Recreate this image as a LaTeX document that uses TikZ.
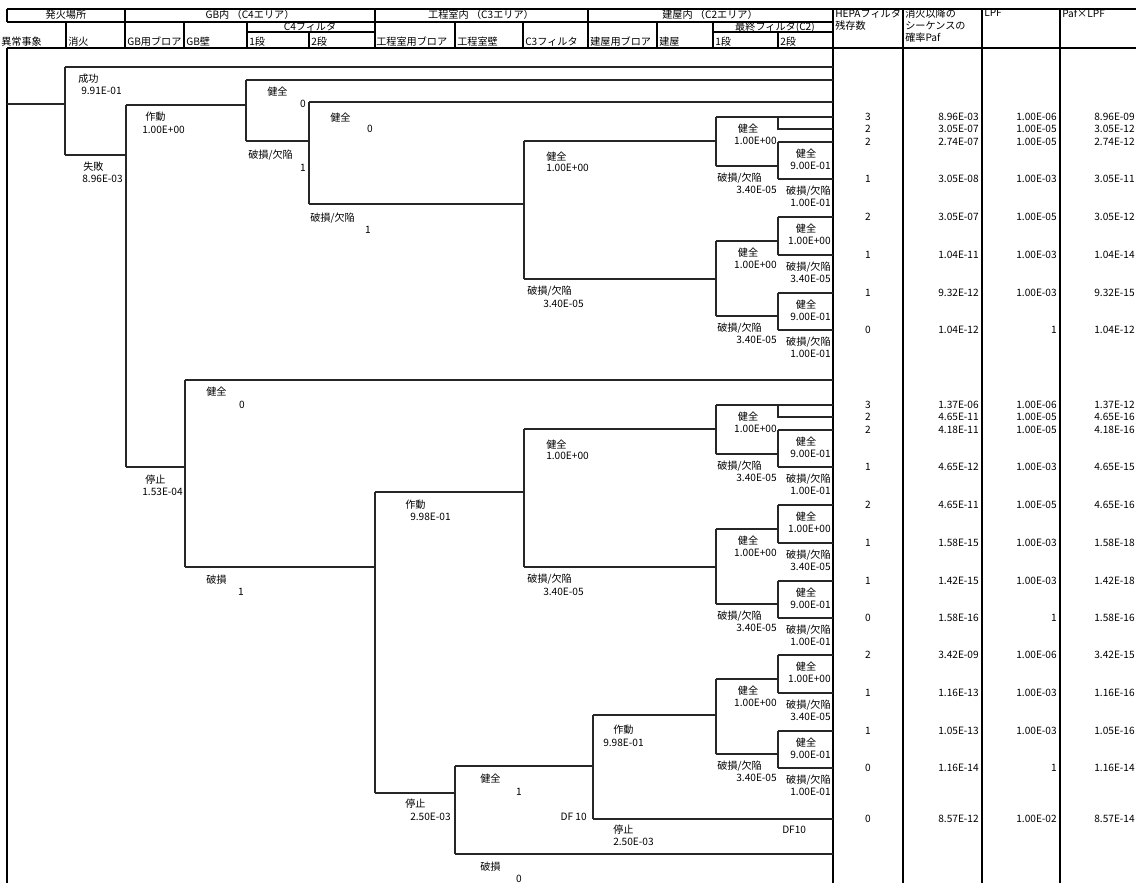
\documentclass[tikz,border=0pt]{standalone}
\usepackage{fontspec}
\setmainfont{Noto Sans CJK JP}
\usetikzlibrary{calc}

\tikzset{
  branch/.style={line width=1.1pt, black!85},
  rule/.style={line width=1.3pt},
  frame/.style={line width=2.2pt},
  lbl/.style={inner sep=0pt, font=\fontsize{7.6}{9}\selectfont},
}

% 2段 split of the final filter (C2): top y, bottom y, four labels
\newcommand{\cfork}[6]{%
  \draw[branch] (778,#1) -- (778,#2);
  \draw[branch] (778,#1) -- (833,#1);
  \draw[branch] (778,#2) -- (833,#2);
  \node[lbl] at (806,#1+12) {#3};
  \node[lbl,anchor=east] at (831,#1+24) {#4};
  \node[lbl,anchor=east] at (831,#2+12) {#5};
  \node[lbl,anchor=east] at (831,#2+24) {#6};
}
% 1段 of the final filter after a broken C3 filter
\newcommand{\lowerhalf}[1]{%
  \draw[branch] (716,#1+124) -- (716,#1+199);
  \draw[branch] (716,#1+124) -- (778,#1+124);
  \draw[branch] (716,#1+199) -- (778,#1+199);
  \node[lbl] at (748,#1+136) {健全};
  \node[lbl,anchor=east] at (777,#1+148) {1.00E+00};
  \node[lbl,anchor=west] at (717,#1+211) {破損/欠陥};
  \node[lbl,anchor=east] at (777,#1+223) {3.40E-05};
  \cfork{#1+100}{#1+138}{健全}{1.00E+00}{破損/欠陥}{3.40E-05}
  \cfork{#1+176}{#1+213}{健全}{9.00E-01}{破損/欠陥}{1.00E-01}
}

\begin{document}
\begin{tikzpicture}[x=0.75pt,y=-0.75pt]
  \useasboundingbox (0,0) rectangle (1136,883);

  % header rules
  \draw[frame] (7,9) -- (1136,9);
  \draw[rule] (7,22) -- (833,22);
  \draw[frame] (7,48) -- (1136,48);
  \draw[rule] (247,32) -- (375,32);
  \draw[rule] (713,32) -- (833,32);
  \foreach \x in {125,375,588} \draw[rule] (\x,9) -- (\x,48);
  \foreach \x in {66,184,247,455,523,657,713} \draw[rule] (\x,22) -- (\x,48);
  \foreach \x in {309,778} \draw[rule] (\x,32) -- (\x,48);
  \draw[frame] (7,9) -- (7,22);
  \draw[frame] (7,48) -- (7,883);
  \foreach \x in {833,903,982,1060} \draw[frame] (\x,9) -- (\x,883);

  % header texts
  \node[lbl] at (66,15) {発火場所};
  \node[lbl] at (250,15) {GB内\ （C4エリア）};
  \node[lbl] at (481,15) {工程室内\ （C3エリア）};
  \node[lbl] at (710,15) {建屋内\ （C2エリア）};
  \node[lbl] at (310,27) {C4フィルタ};
  \node[lbl] at (775,27) {最終フィルタ(C2)};
  \foreach \x/\t in {1/異常事象, 68/消火, 127/GB用ブロア, 186/GB壁, 249/1段, 311/2段,
                     376/工程室用ブロア, 457/工程室壁, 525/C3フィルタ, 590/建屋用ブロア,
                     659/建屋, 715/1段, 780/2段}
    \node[lbl,anchor=west] at (\x,42) {\t};
  \node[lbl,anchor=north west,align=left] at (835,9) {HEPAフィルタ\\残存数};
  \node[lbl,anchor=north west,align=left] at (905,9) {消火以降の\\シーケンスの\\確率Paf};
  \node[lbl,anchor=north west] at (984,9) {LPF};
  \node[lbl,anchor=north west] at (1062,9) {Paf×LPF};

  % fire extinguishing and GB
  \draw[branch] (7,104) -- (65,104);
  \draw[branch] (65,67) -- (65,155);
  \draw[branch] (65,67) -- (833,67);
  \draw[branch] (65,155) -- (126,155);
  \node[lbl,anchor=west] at (78,79) {成功};
  \node[lbl,anchor=west] at (81,91) {9.91E-01};
  \node[lbl,anchor=west] at (83,167) {失敗};
  \node[lbl,anchor=east] at (123,179) {8.96E-03};
  \draw[branch] (126,105) -- (126,467);
  \draw[branch] (126,105) -- (246,105);
  \draw[branch] (126,467) -- (185,467);
  \node[lbl,anchor=west] at (145,117) {作動};
  \node[lbl,anchor=west] at (142,130) {1.00E+00};
  \node[lbl,anchor=west] at (145,480) {停止};
  \node[lbl,anchor=east] at (183,492) {1.53E-04};

  % C4 filter, upper part
  \draw[branch] (246,80) -- (246,141);
  \draw[branch] (246,80) -- (833,80);
  \draw[branch] (246,141) -- (309,141);
  \node[lbl,anchor=west] at (267,92) {健全};
  \node[lbl,anchor=east] at (306,104) {0};
  \node[lbl,anchor=west] at (248,155) {破損/欠陥};
  \node[lbl,anchor=east] at (306,168) {1};
  \draw[branch] (309,102) -- (309,204);
  \draw[branch] (309,102) -- (833,102);
  \draw[branch] (309,204) -- (524,204);
  \node[lbl,anchor=west] at (330,118) {健全};
  \node[lbl] at (370,129) {0};
  \node[lbl,anchor=west] at (310,218) {破損/欠陥};
  \node[lbl] at (368,230) {1};

  % GB wall, lower part
  \draw[branch] (185,380) -- (185,567);
  \draw[branch] (185,380) -- (833,380);
  \draw[branch] (185,567) -- (375,567);
  \node[lbl,anchor=west] at (206,392) {健全};
  \node[lbl] at (242,405) {0};
  \node[lbl,anchor=west] at (206,580) {破損};
  \node[lbl] at (241,592) {1};
  \draw[branch] (375,492) -- (375,793);
  \draw[branch] (375,492) -- (524,492);
  \draw[branch] (375,793) -- (455,793);
  \node[lbl,anchor=west] at (405,505) {作動};
  \node[lbl,anchor=west] at (410,517) {9.98E-01};
  \node[lbl,anchor=west] at (405,804) {停止};
  \node[lbl,anchor=west] at (410,817) {2.50E-03};

  % C3 filter and final filter, two identical blocks
  \foreach \r in {117,405} {
    \draw[branch] (524,\r+24) -- (524,\r+162);
    \draw[branch] (524,\r+24) -- (716,\r+24);
    \draw[branch] (524,\r+162) -- (716,\r+162);
    \node[lbl,anchor=west] at (546,\r+40) {健全};
    \node[lbl,anchor=west] at (546,\r+51) {1.00E+00};
    \node[lbl,anchor=west] at (527,\r+174) {破損/欠陥};
    \node[lbl,anchor=west] at (543,\r+187) {3.40E-05};
    \draw[branch] (716,\r) -- (716,\r+49);
    \draw[branch] (716,\r) -- (833,\r);
    \draw[branch] (716,\r+49) -- (778,\r+49);
    \draw[branch] (778,\r) -- (778,\r+12) -- (833,\r+12);
    \node[lbl] at (748,\r+12) {健全};
    \node[lbl,anchor=east] at (777,\r+24) {1.00E+00};
    \node[lbl,anchor=west] at (717,\r+61) {破損/欠陥};
    \node[lbl,anchor=east] at (777,\r+73) {3.40E-05};
    \cfork{\r+25}{\r+62}{健全}{9.00E-01}{破損/欠陥}{1.00E-01}
    \lowerhalf{\r}
  }

  % blower stopped: DF 10 branch
  \draw[branch] (455,766) -- (455,854);
  \draw[branch] (455,766) -- (593,766);
  \draw[branch] (455,854) -- (833,854);
  \node[lbl,anchor=west] at (480,779) {健全};
  \node[lbl] at (519,792) {1};
  \node[lbl,anchor=east] at (587,817) {DF 10};
  \node[lbl,anchor=west] at (480,867) {破損};
  \node[lbl] at (519,879) {0};
  \draw[branch] (593,715) -- (593,819);
  \draw[branch] (593,715) -- (716,715);
  \draw[branch] (593,819) -- (833,819);
  \node[lbl,anchor=west] at (613,730) {作動};
  \node[lbl,anchor=west] at (603,743) {9.98E-01};
  \node[lbl,anchor=west] at (613,830) {停止};
  \node[lbl,anchor=west] at (613,842) {2.50E-03};
  \node[lbl,anchor=west] at (782,830) {DF10};
  \lowerhalf{555}

  % results per sequence
  \foreach \y/\n/\paf/\lpf/\pl in {
      117/3/8.96E-03/1.00E-06/8.96E-09, 129/2/3.05E-07/1.00E-05/3.05E-12,
      142/2/2.74E-07/1.00E-05/2.74E-12, 179/1/3.05E-08/1.00E-03/3.05E-11,
      217/2/3.05E-07/1.00E-05/3.05E-12, 255/1/1.04E-11/1.00E-03/1.04E-14,
      293/1/9.32E-12/1.00E-03/9.32E-15, 330/0/1.04E-12/1/1.04E-12,
      405/3/1.37E-06/1.00E-06/1.37E-12, 417/2/4.65E-11/1.00E-05/4.65E-16,
      430/2/4.18E-11/1.00E-05/4.18E-16, 467/1/4.65E-12/1.00E-03/4.65E-15,
      505/2/4.65E-11/1.00E-05/4.65E-16, 543/1/1.58E-15/1.00E-03/1.58E-18,
      581/1/1.42E-15/1.00E-03/1.42E-18, 618/0/1.58E-16/1/1.58E-16,
      655/2/3.42E-09/1.00E-06/3.42E-15, 693/1/1.16E-13/1.00E-03/1.16E-16,
      731/1/1.05E-13/1.00E-03/1.05E-16, 768/0/1.16E-14/1/1.16E-14,
      819/0/8.57E-12/1.00E-02/8.57E-14} {
    \node[lbl] at (868,\y) {\n};
    \node[lbl,anchor=east] at (979,\y) {\paf};
    \node[lbl,anchor=east] at (1057,\y) {\lpf};
    \node[lbl,anchor=east] at (1135,\y) {\pl};
  }
\end{tikzpicture}
\end{document}
